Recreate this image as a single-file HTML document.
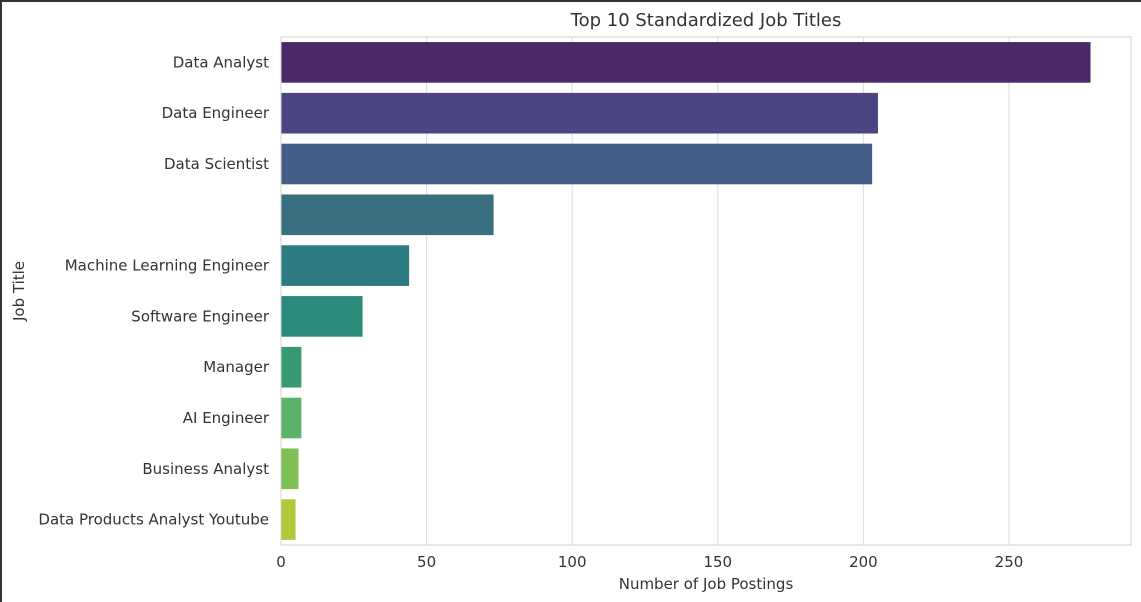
<!DOCTYPE html>
<html><head><meta charset="utf-8"><style>
body{margin:0;background:#fff;}
#wrap{position:relative;width:1141px;height:602px;box-sizing:border-box;border-left:2px solid #333;border-top:2px solid #333;overflow:hidden}
svg text{font-family:"DejaVu Sans","Liberation Sans",sans-serif;fill:#333}
</style></head><body>
<div id="wrap">
<svg id="chart" width="1141" height="602" style="position:absolute;left:-2px;top:-2px"></svg>
</div>
<script>
const categories=["Data Analyst","Data Engineer","Data Scientist","","Machine Learning Engineer","Software Engineer","Manager","AI Engineer","Business Analyst","Data Products Analyst Youtube"];
const values=[278,205,203,73,44,28,7,7,6,5];
const colors=["#4c2a68","#4b4682","#435f87","#3a6f82","#2b7b80","#2a8b7b","#389a73","#5cb268","#7fc055","#b0c93b"];
const xTicks=[0,50,100,150,200,250];
const NS="http://www.w3.org/2000/svg";
const svg=document.getElementById('chart');
const L=281,R=1131,T=37,B=545;
const x=v=>L+v*2.912;
const band=(B-T)/categories.length;
const y=i=>T+i*band;
function mk(t,a,p){const e=document.createElementNS(NS,t);for(const k in a)e.setAttribute(k,a[k]);(p||svg).appendChild(e);return e;}
xTicks.forEach(t=>{
 const g=mk('line',{x1:x(t),x2:x(t),y1:T,y2:B,stroke:'#dcdcdc','stroke-width':1});
 
 
 const lb=mk('text',{x:x(t),y:B+22,'text-anchor':'middle','font-size':15});
 lb.textContent=t;
 
 
});
categories.forEach((c,i)=>{
 const h=band*0.8;
 const r=mk('rect',{x:L,y:y(i)+band*0.1,width:x(values[i])-L,height:h,fill:colors[i]});
 
 
 const lb=mk('text',{x:L-12,y:y(i)+band/2+5,'text-anchor':'end','font-size':15});
 lb.textContent=c;
 
 
});
const fr=mk('rect',{x:L,y:T,width:R-L,height:B-T,fill:'none',stroke:'#d0d0d0','stroke-width':1});


const ti=mk('text',{x:(L+R)/2,y:26,'text-anchor':'middle','font-size':18});
ti.textContent='Top 10 Standardized Job Titles';


const xt=mk('text',{x:(L+R)/2,y:589,'text-anchor':'middle','font-size':15});
xt.textContent='Number of Job Postings';


const yt=mk('text',{x:24,y:291,'text-anchor':'middle','font-size':15,transform:'rotate(-90 24 291)'});
yt.textContent='Job Title';


</script>
</body></html>
